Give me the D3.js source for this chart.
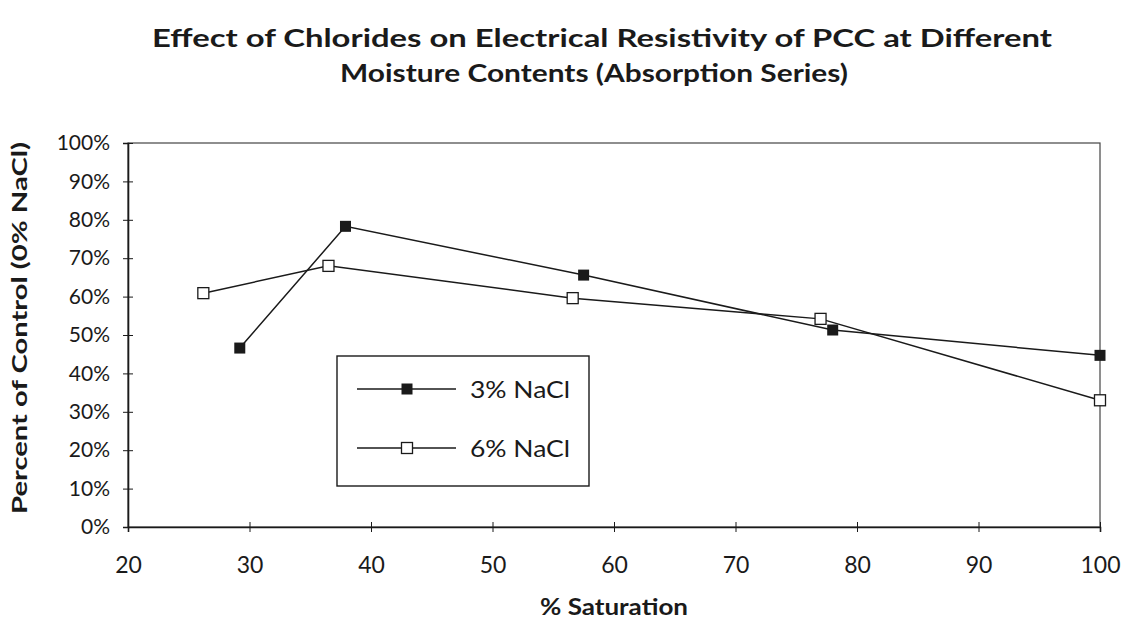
<!DOCTYPE html>
<html><head><meta charset="utf-8">
<script src="https://cdn.jsdelivr.net/npm/d3@7"></script>
<style>body{margin:0;background:#fff;} text{font-family:Lato,"Open Sans",sans-serif;fill:#1a1a1a;}</style>
</head><body><svg id="c" width="1128" height="621"></svg>
<script>
const xTicks = [20,30,40,50,60,70,80,90,100];
const yTicks = [0,0.1,0.2,0.3,0.4,0.5,0.6,0.7,0.8,0.9,1.0];
const seriesNames = ["3% NaCl","6% NaCl"];
const sat3 = [29.2, 37.9, 57.5, 78.0, 100];
const pct3 = [0.466, 0.783, 0.656, 0.513, 0.447];
const sat6 = [26.2, 36.5, 56.6, 77.0, 100];
const pct6 = [0.609, 0.680, 0.596, 0.542, 0.330];

const svg = d3.select("#c");
const m={l:128,r:1100,t:143,b:527};
const x=d3.scaleLinear().domain([20,100]).range([m.l,m.r]);
const y=d3.scaleLinear().domain([0,1]).range([m.b,m.t]);
const ink="#1a1a1a";

// title
svg.append("text").attr("x",602).attr("y",47).attr("text-anchor","middle")
  .attr("font-size",25).attr("font-weight","bold").attr("textLength",900).attr("lengthAdjust","spacingAndGlyphs")
  .text("Effect of Chlorides on Electrical Resistivity of PCC at Different");
svg.append("text").attr("x",594).attr("y",82).attr("text-anchor","middle")
  .attr("font-size",25).attr("font-weight","bold").attr("textLength",508).attr("lengthAdjust","spacingAndGlyphs")
  .text("Moisture Contents (Absorption Series)");

// frame
svg.append("rect").attr("x",m.l).attr("y",m.t).attr("width",m.r-m.l).attr("height",m.b-m.t)
  .attr("fill","none").attr("stroke","#444").attr("stroke-width",1.2);

// axes
const yAxis=d3.axisLeft(y).tickValues(yTicks).tickFormat(d3.format(".0%")).tickSize(5).tickPadding(10);
const gy=svg.append("g").attr("transform",`translate(${m.l},0)`).call(yAxis);
gy.select(".domain").attr("stroke",ink).attr("stroke-width",1.6);
gy.selectAll(".tick line").attr("stroke",ink).attr("x2",5).attr("x1",-5);
gy.selectAll(".tick text").attr("font-size",21).attr("font-family","Lato,sans-serif").attr("fill",ink).attr("x",-18);

const xAxis=d3.axisBottom(x).tickValues(xTicks).tickFormat(d3.format("d")).tickSize(5);
const gx=svg.append("g").attr("transform",`translate(0,${m.b})`).call(xAxis);
gx.select(".domain").attr("stroke",ink).attr("stroke-width",1.6);
gx.selectAll(".tick line").attr("stroke",ink).attr("y1",-5).attr("y2",5);
gx.selectAll(".tick text").attr("font-size",23).attr("font-family","Lato,sans-serif").attr("fill",ink)
  .attr("y",46).attr("dy",null);

// axis titles
svg.append("text").attr("transform","translate(27,328) rotate(-90)").attr("text-anchor","middle")
  .attr("font-size",21).attr("font-weight","bold").attr("textLength",372).attr("lengthAdjust","spacingAndGlyphs")
  .text("Percent of Control (0% NaCl)");
svg.append("text").attr("x",614).attr("y",615).attr("text-anchor","middle")
  .attr("font-size",22).attr("font-weight","bold").attr("textLength",148).attr("lengthAdjust","spacingAndGlyphs")
  .text("% Saturation");

// lines
const line=d3.line().x(d=>x(d[0])).y(d=>y(d[1]));
const d3s=sat3.map((s,i)=>[s,pct3[i]]);
const d6s=sat6.map((s,i)=>[s,pct6[i]]);
svg.append("path").datum(d3s).attr("d",line).attr("fill","none").attr("stroke",ink).attr("stroke-width",1.5);
svg.append("path").datum(d6s).attr("d",line).attr("fill","none").attr("stroke",ink).attr("stroke-width",1.5);

const ms=11;
svg.selectAll(".m3").data(d3s).join("rect").attr("x",d=>x(d[0])-ms/2).attr("y",d=>y(d[1])-ms/2)
  .attr("width",ms).attr("height",ms).attr("fill",ink);
svg.selectAll(".m6").data(d6s).join("rect").attr("x",d=>x(d[0])-ms/2).attr("y",d=>y(d[1])-ms/2)
  .attr("width",ms).attr("height",ms).attr("fill","#fff").attr("stroke",ink).attr("stroke-width",1.3);

// legend
const lg=svg.append("g");
lg.append("rect").attr("x",337).attr("y",356).attr("width",252).attr("height",130)
  .attr("fill","#fff").attr("stroke",ink).attr("stroke-width",1.4);
const legY=[389,448];
seriesNames.forEach((n,i)=>{
  lg.append("line").attr("x1",357).attr("x2",456).attr("y1",legY[i]).attr("y2",legY[i]).attr("stroke",ink).attr("stroke-width",1.5);
  lg.append("rect").attr("x",407-ms/2).attr("y",legY[i]-ms/2).attr("width",ms).attr("height",ms)
    .attr("fill",i===0?ink:"#fff").attr("stroke",ink).attr("stroke-width",i===0?0:1.3);
  lg.append("text").attr("x",470).attr("y",legY[i]+9).attr("font-size",24)
    .attr("textLength",100).attr("lengthAdjust","spacingAndGlyphs").text(n);
});
</script></body></html>
